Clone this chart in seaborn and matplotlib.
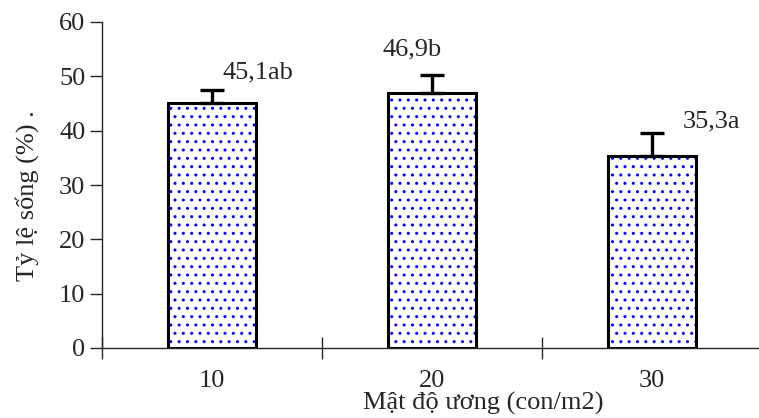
import matplotlib
matplotlib.use("Agg")
import matplotlib.pyplot as plt
import seaborn as sns
import pandas as pd
import numpy as np

categories = ["10", "20", "30"]
values = [45.1, 46.9, 35.3]
errors = [2.4, 3.3, 4.2]
letters = ["ab", "b", "a"]
yticks = [0, 10, 20, 30, 40, 50, 60]

sns.set_style("ticks")
plt.rcParams['font.family'] = ['Liberation Serif', 'DejaVu Serif']
plt.rcParams['hatch.linewidth'] = 1.0

df = pd.DataFrame({"cat": categories, "val": values})

fig = plt.figure(figsize=(7.59, 4.18), dpi=100)
ax = fig.add_axes([102/759, 70/418, (762-102)/759, (348-22)/418])

# hatch layer (blue dots)
sns.barplot(data=df, x="cat", y="val", ax=ax, color="white", width=0.4,
            errorbar=None, edgecolor="blue", linewidth=0, hatch="..")
# outline layer
sns.barplot(data=df, x="cat", y="val", ax=ax, fill=False, width=0.4,
            errorbar=None, edgecolor="black", linewidth=2.2)

x = np.arange(len(categories))
ax.errorbar(x, values, yerr=[np.zeros(len(errors)), errors], fmt="none",
            ecolor="black", elinewidth=2.4, capsize=8.5, capthick=2.4)

offsets = [(0.21, 4.6), (-0.09, 7.0), (0.268, 5.2)]
for xi, v, l, (dx, dy) in zip(x, values, letters, offsets):
    ax.text(xi + dx, v + dy, f"{v:.1f}".replace(".", ",") + l,
            ha="center", va="baseline", fontsize=19)

ax.set_xlim(-0.5, 2.5)
ax.set_ylim(0, 60)
ax.set_yticks(yticks)
ax.tick_params(axis="y", direction="out", length=9, width=1, labelsize=19, pad=3)
ax.tick_params(axis="x", which="major", length=0, labelsize=19, pad=16)
ax.set_xticks([-0.5, 0.5, 1.5], minor=True)
ax.tick_params(axis="x", which="minor", direction="inout", length=16, width=1)
ax.spines["top"].set_visible(False)
ax.spines["right"].set_visible(False)
for s in ["left", "bottom"]:
    ax.spines[s].set_linewidth(1)
ax.set_xlabel("Mật độ ương (con/m2)", fontsize=19)
ax.xaxis.set_label_coords((483 - 102) / 660, (348 - 410) / 326)
ax.xaxis.label.set_va("baseline")
ax.set_ylabel("Tỷ lệ sống (%) .", fontsize=19)
ax.yaxis.set_label_coords((27 - 102) / 660, (348 - 196) / 326)
ax.yaxis.label.set_va("center")

fig.savefig("out.png", dpi=100)
